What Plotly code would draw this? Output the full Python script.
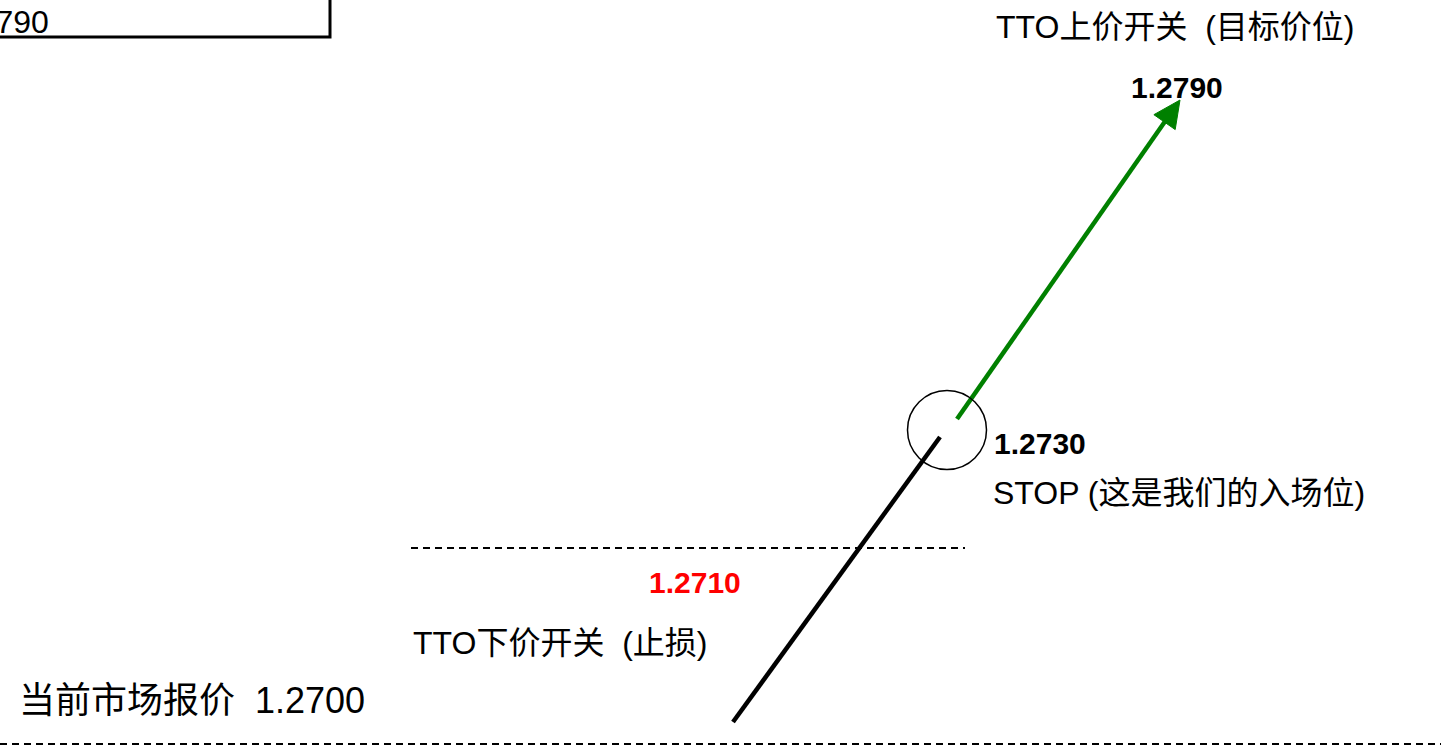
import numpy as np
import plotly.graph_objects as go

# Price levels shown on the diagram
target_price = "1.2790"
entry_price = "1.2730"
stop_loss_price = "1.2710"
market_price = "1.2700"

# Text labels
upper_switch_label = "TTO上价开关  (目标价位)"
entry_label = "STOP (这是我们的入场位)"
lower_switch_label = "TTO下价开关  (止损)"
market_label = "当前市场报价  " + market_price

# Diagram geometry (page pixels, y grows downward)
W, H = 1441, 746
black_x = [733, 940]
black_y = [722, 437]
green_x = [957, 1166]
green_y = [419, 120]
arrow_tip = (1180, 100)
circle_c = (947, 430)
circle_r = 39.5
dash_top_x = [411, 965]
dash_top_y = 548
dash_bot_x = [0, W]
dash_bot_y = 744

FONT = "Liberation Sans, Arial, Noto Sans CJK SC, sans-serif"

fig = go.Figure()

# price path up to the entry
fig.add_trace(go.Scatter(x=black_x, y=black_y, mode="lines",
                         line=dict(color="black", width=4.5), hoverinfo="skip"))
# move after entry towards target
fig.add_trace(go.Scatter(x=green_x, y=green_y, mode="lines",
                         line=dict(color="#008000", width=4.5), hoverinfo="skip"))

# arrow head
tip = np.array(arrow_tip, dtype=float)
d = tip - np.array([green_x[0], green_y[0]], dtype=float)
d /= np.linalg.norm(d)
n = np.array([-d[1], d[0]])
base = tip - d * 27
p1 = base + n * 13
p2 = base - n * 13
fig.add_trace(go.Scatter(x=[tip[0], p1[0], p2[0], tip[0]],
                         y=[tip[1], p1[1], p2[1], tip[1]],
                         mode="lines", fill="toself", fillcolor="#008000",
                         line=dict(color="#008000", width=1), hoverinfo="skip"))

shapes = [
    dict(type="circle", xref="x", yref="y",
         x0=circle_c[0] - circle_r, x1=circle_c[0] + circle_r,
         y0=circle_c[1] - circle_r, y1=circle_c[1] + circle_r,
         line=dict(color="black", width=1.5)),
    dict(type="line", xref="x", yref="y",
         x0=dash_top_x[0], x1=dash_top_x[1], y0=dash_top_y, y1=dash_top_y,
         line=dict(color="black", width=2, dash="7px,5px")),
    dict(type="line", xref="x", yref="y",
         x0=dash_bot_x[0], x1=dash_bot_x[1], y0=dash_bot_y, y1=dash_bot_y,
         line=dict(color="black", width=2, dash="7px,5px")),
    # clipped box at top-left
    dict(type="rect", xref="x", yref="y", x0=-20, x1=330, y0=-20, y1=37,
         line=dict(color="black", width=3), fillcolor="rgba(0,0,0,0)"),
]

def label(x, y, text, size, color="black", bold=False, anchor="left"):
    if bold:
        text = "<b>" + text + "</b>"
    return dict(x=x, y=y, xref="x", yref="y", text=text, showarrow=False,
                xanchor=anchor, yanchor="middle",
                font=dict(family=FONT, size=size, color=color))

annotations = [
    label(51, 22, target_price, 32, anchor="right"),
    label(994, 27, upper_switch_label, 32),
    label(1129, 87, target_price, 30, bold=True),
    label(992, 443, entry_price, 30, bold=True),
    label(991, 493, entry_label, 32),
    label(647, 582, stop_loss_price, 30, color="#ff0000", bold=True),
    label(411, 643, lower_switch_label, 32),
    label(17, 700, market_label, 36),
]

fig.update_layout(
    width=W, height=H,
    margin=dict(l=0, r=0, t=0, b=0),
    paper_bgcolor="white", plot_bgcolor="white",
    showlegend=False,
    xaxis=dict(range=[0, W], visible=False, fixedrange=True),
    yaxis=dict(range=[H, 0], visible=False, fixedrange=True),
    shapes=shapes,
    annotations=annotations,
)

# drop the default page margin so the figure sits at the window's corner
fig.write_html("out.html",
               config={"displayModeBar": False},
               post_script="document.body.style.margin='0';document.body.style.overflow='hidden';")
